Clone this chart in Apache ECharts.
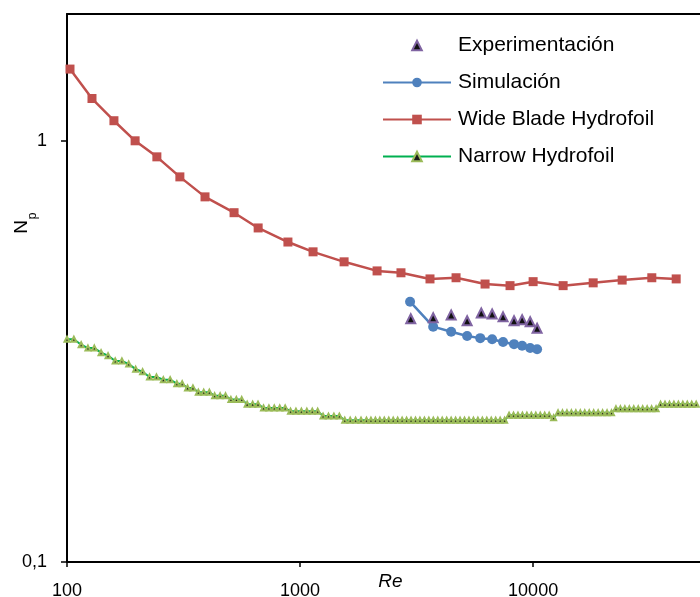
<!DOCTYPE html>
<html>
<head>
<meta charset="utf-8">
<script src="https://cdn.jsdelivr.net/npm/echarts@6/dist/echarts.min.js"></script>
<style>
html, body { margin: 0; padding: 0; background: #fff; }
#chart { width: 700px; height: 597px; }
</style>
</head>
<body>
<div id="chart"></div>
<script>
// datos
const expRe = [2985, 3725, 4450, 5210, 5990, 6670, 7430, 8280, 8970, 9710, 10400]
const expNp = [0.378, 0.380, 0.386, 0.374, 0.390, 0.388, 0.382, 0.374, 0.376, 0.372, 0.359]

const simRe = [2965, 3725, 4450, 5210, 5930, 6670, 7430, 8280, 8970, 9710, 10400]
const simNp = [0.415, 0.362, 0.352, 0.344, 0.340, 0.338, 0.333, 0.329, 0.326, 0.322, 0.320]

const wideRe = [103, 128, 159, 196, 243, 305, 391, 521, 661, 887, 1137, 1545, 2140, 2710,
  3610, 4670, 6220, 7960, 10000, 13450, 18100, 24100, 32300, 41100]
const wideNp = [1.48, 1.26, 1.116, 1.0, 0.916, 0.821, 0.736, 0.675, 0.621, 0.575, 0.545, 0.516,
  0.491, 0.486, 0.47, 0.473, 0.457, 0.453, 0.463, 0.453, 0.46, 0.467, 0.473, 0.47]

const narrowRe = [
  100, 107, 115, 123, 131, 140, 150, 161, 172, 184, 197, 211, 226, 242, 259, 277, 296,
  312, 329, 347, 366, 386, 408, 430, 454, 479, 505, 533, 562, 593, 626, 660, 697, 735,
  775, 818, 863, 910, 960, 1013, 1069, 1128, 1190, 1255, 1324, 1397, 1474, 1555, 1641,
  1731, 1826, 1927,
  2014, 2105, 2199, 2298, 2402, 2510, 2623, 2741, 2864, 2993, 3128, 3268, 3416, 3569,
  3730, 3898, 4073, 4257, 4448, 4649, 4858, 5076, 5305, 5544, 5793, 6054, 6326, 6611,
  6908, 7219, 7544, 7884, 8238, 8609, 8996, 9401, 9824, 10266, 10728, 11211, 11715,
  12243, 12794, 13369, 13971, 14600, 15257, 15943, 16661, 17411, 18194, 19013, 19868,
  20763, 21697, 22673, 23693, 24760, 25874, 27038, 28255, 29527, 30855, 32244, 33695,
  35211, 36796, 38451, 40182, 41990, 43880, 45854, 47918, 50074
]
const narrowNp = [
  0.338, 0.338, 0.328, 0.322, 0.322, 0.314, 0.309, 0.300, 0.300, 0.295, 0.287, 0.283,
  0.275, 0.275, 0.271, 0.271, 0.265,
  0.265, 0.259, 0.259, 0.253, 0.253, 0.253, 0.248, 0.248, 0.248, 0.243, 0.243, 0.243,
  0.237, 0.237, 0.237, 0.232, 0.232, 0.232, 0.232, 0.232, 0.228, 0.228, 0.228, 0.228,
  0.228, 0.228, 0.222, 0.222, 0.222, 0.222, 0.217, 0.217, 0.217, 0.217, 0.217,
  0.217, 0.217, 0.217, 0.217, 0.217, 0.217, 0.217, 0.217, 0.217, 0.217, 0.217, 0.217,
  0.217, 0.217, 0.217, 0.217, 0.217, 0.217, 0.217, 0.217, 0.217, 0.217, 0.217, 0.217,
  0.217, 0.217, 0.217, 0.217, 0.217, 0.217, 0.217,
  0.223, 0.223, 0.223, 0.223, 0.223, 0.223, 0.223, 0.223, 0.223, 0.223, 0.220,
  0.226, 0.226, 0.226, 0.226, 0.226, 0.226, 0.226, 0.226, 0.226, 0.226, 0.226, 0.226, 0.226,
  0.231, 0.231, 0.231, 0.231, 0.231, 0.231, 0.231, 0.231, 0.231, 0.231,
  0.237, 0.237, 0.237, 0.237, 0.237, 0.237, 0.237, 0.237, 0.237
]

const xTicks = [100, 1000, 10000]
const yTicks = [0.1, 1]

const pairs = (xs, ys) => xs.map((x, i) => [x, ys[i]])

const fmtLog = v => {
  const e = Math.log10(v)
  if (Math.abs(e - Math.round(e)) > 1e-6) return ''
  return String(Math.pow(10, Math.round(e))).replace('.', ',')
}

const font = '"Liberation Sans", Arial, sans-serif'

const chart = echarts.init(document.getElementById('chart'))
chart.setOption({
  animation: false,
  textStyle: { fontFamily: font },
  grid: { left: 67, top: 14, right: 0, bottom: 35, outerBoundsMode: 'none', containLabel: false },
  legend: {
    orient: 'vertical',
    left: 382,
    top: 35,
    padding: 0,
    itemWidth: 68,
    itemHeight: 12,
    itemGap: 16,
    textStyle: { fontSize: 21, color: '#000', fontFamily: font, padding: [0, 0, 0, 2] },
    data: [
      { name: 'Experimentación' },
      { name: 'Simulación' },
      { name: 'Wide Blade Hydrofoil' },
      { name: 'Narrow Hydrofoil' }
    ]
  },
  xAxis: [{
    type: 'log',
    min: 100,
    max: 52000,
    name: 'Re',
    nameLocation: 'middle',
    nameGap: 10,
    nameMoveOverlap: false,
    nameTextStyle: { fontSize: 19, fontStyle: 'italic', color: '#000', padding: [0, 0, 0, 14] },
    axisLine: { lineStyle: { color: '#000', width: 2 } },
    axisTick: { customValues: xTicks, length: 5, lineStyle: { color: '#000', width: 1.5 } },
    axisLabel: { customValues: xTicks, formatter: fmtLog, fontSize: 18, color: '#000', margin: 20 },
    splitLine: { show: false },
    minorTick: { show: false }
  }, {
    type: 'log',
    position: 'top',
    min: 100,
    max: 52000,
    axisLine: { show: true, onZero: false, lineStyle: { color: '#000', width: 2 } },
    axisTick: { show: false },
    axisLabel: { show: false },
    splitLine: { show: false }
  }],
  yAxis: {
    type: 'log',
    min: 0.1,
    max: 2,
    axisLine: { show: true, lineStyle: { color: '#000', width: 2 } },
    axisTick: { show: true, customValues: yTicks, length: 6, lineStyle: { color: '#000', width: 1.5 } },
    axisLabel: { customValues: yTicks, formatter: fmtLog, fontSize: 18, color: '#000', margin: 20 },
    splitLine: { show: false }
  },
  graphic: [
    { type: 'text', x: 22, y: 227, rotation: Math.PI / 2,
      style: { text: 'N', fontSize: 19, fontFamily: font, fill: '#000', align: 'center', verticalAlign: 'middle' } },
    { type: 'text', x: 33, y: 216, rotation: Math.PI / 2,
      style: { text: 'p', fontSize: 12, fontFamily: font, fill: '#000', align: 'center', verticalAlign: 'middle' } }
  ],
  series: [
    {
      name: 'Narrow Hydrofoil',
      type: 'line',
      data: pairs(narrowRe, narrowNp),
      symbol: 'triangle',
      symbolSize: 5,
      lineStyle: { color: '#00B050', width: 2 },
      itemStyle: { color: '#1a1a1a', borderColor: '#9BBB59', borderWidth: 2 }
    },
    {
      name: 'Wide Blade Hydrofoil',
      type: 'line',
      data: pairs(wideRe, wideNp),
      symbol: 'rect',
      symbolSize: 9,
      lineStyle: { color: '#C0504D', width: 2.5 },
      itemStyle: { color: '#C0504D' }
    },
    {
      name: 'Simulación',
      type: 'line',
      data: pairs(simRe, simNp),
      symbol: 'circle',
      symbolSize: 10,
      lineStyle: { color: '#4F81BD', width: 2.5 },
      itemStyle: { color: '#4F81BD' }
    },
    {
      // solo marcadores, sin linea visible
      name: 'Experimentación',
      type: 'line',
      data: pairs(expRe, expNp),
      symbol: 'triangle',
      symbolSize: 9,
      lineStyle: { opacity: 0, width: 0 },
      itemStyle: { color: '#111', borderColor: '#8064A2', borderWidth: 2 }
    }
  ]
})
</script>
</body>
</html>
